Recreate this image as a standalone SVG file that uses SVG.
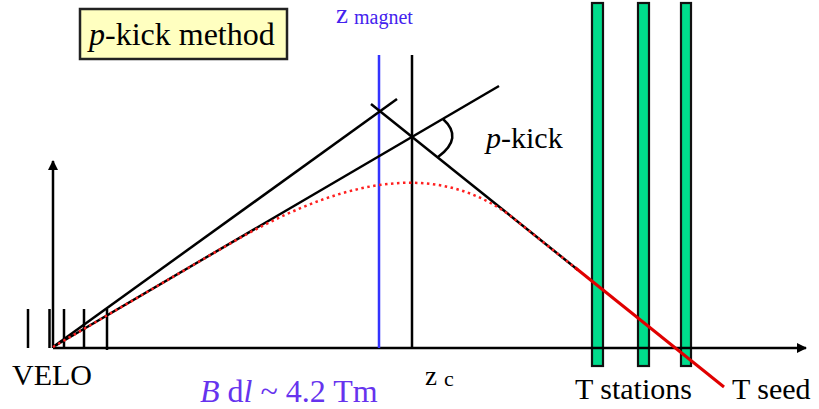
<svg xmlns="http://www.w3.org/2000/svg" width="819" height="409" viewBox="0 0 819 409">
<defs>
<style>
.ln{stroke:#000;stroke-width:2.5;fill:none}
.st{fill:#00DC8C;stroke:#111;stroke-width:2.2}
.t{font-family:"Liberation Serif","Times New Roman",serif;fill:#000}
.b{fill:#4422EE}
</style>
<marker id="ah" viewBox="0 0 10 10" refX="9" refY="5" markerWidth="4" markerHeight="4" orient="auto"><path d="M0,0 L10,5 L0,10 z" fill="#000"/></marker>
</defs>
<rect width="819" height="409" fill="#fff"/>
<g id="title">
<rect x="80" y="9" width="207" height="50" fill="#FFFFC0" stroke="#222" stroke-width="2.5"/>
<text class="t" x="89" y="45" font-size="32"><tspan font-style="italic">p</tspan>-kick method</text>
</g>
<g id="t-stations">
<rect class="st" x="592" y="3" width="11" height="363"/>
<rect class="st" x="638" y="3" width="11" height="363"/>
<rect class="st" x="681" y="3" width="10" height="363"/>
</g>
<g id="velo">
<line class="ln" x1="28" y1="309" x2="28" y2="348"/>
<line class="ln" x1="49.5" y1="309" x2="49.5" y2="348"/>
<line class="ln" x1="64" y1="309" x2="64" y2="348"/>
<line class="ln" x1="84" y1="309" x2="84" y2="348"/>
<line class="ln" x1="107" y1="309" x2="107" y2="350"/>
</g>
<g id="connectors">
<line class="ln" x1="53" y1="348" x2="806" y2="348" marker-end="url(#ah)"/>
<line class="ln" x1="53" y1="348" x2="53" y2="161" marker-end="url(#ah)"/>
<line x1="379" y1="55" x2="379" y2="348" stroke="#3333FF" stroke-width="2.5"/>
<line class="ln" x1="412" y1="55" x2="412" y2="348"/>
<line class="ln" x1="53" y1="347" x2="397" y2="99"/>
<line class="ln" x1="53" y1="347" x2="499" y2="86"/>
<line class="ln" x1="371" y1="104" x2="578" y2="270"/>
<path d="M443,119 Q464,138 438,157" class="ln"/>
<path d="M53,347 L225,246.5 C332,184 428,157 508,214 L578,270" fill="none" stroke="#FF2020" stroke-width="2.5" stroke-dasharray="2.5,3.5"/>
<line x1="575" y1="267.5" x2="724" y2="387" stroke="#E00000" stroke-width="3"/>
</g>
<g id="labels">
<text class="t" x="12" y="385" font-size="30">VELO</text>
<text class="t" x="575" y="399" font-size="30">T stations</text>
<text class="t" x="732" y="399" font-size="30">T seed</text>
<text class="t" x="486" y="148" font-size="30"><tspan font-style="italic">p</tspan>-kick</text>
<text class="t b" x="336" y="23" font-size="27">z<tspan font-size="20" dx="6" dy="1">magnet</tspan></text>
<text class="t" x="425" y="385" font-size="27">z<tspan font-size="22" dx="7" dy="1">c</tspan></text>
<text class="t" x="200" y="402" font-size="32" style="fill:#6633EE"><tspan font-style="italic">B</tspan> d<tspan font-style="italic">l</tspan> ~ 4.2 Tm</text>
</g>
</svg>
